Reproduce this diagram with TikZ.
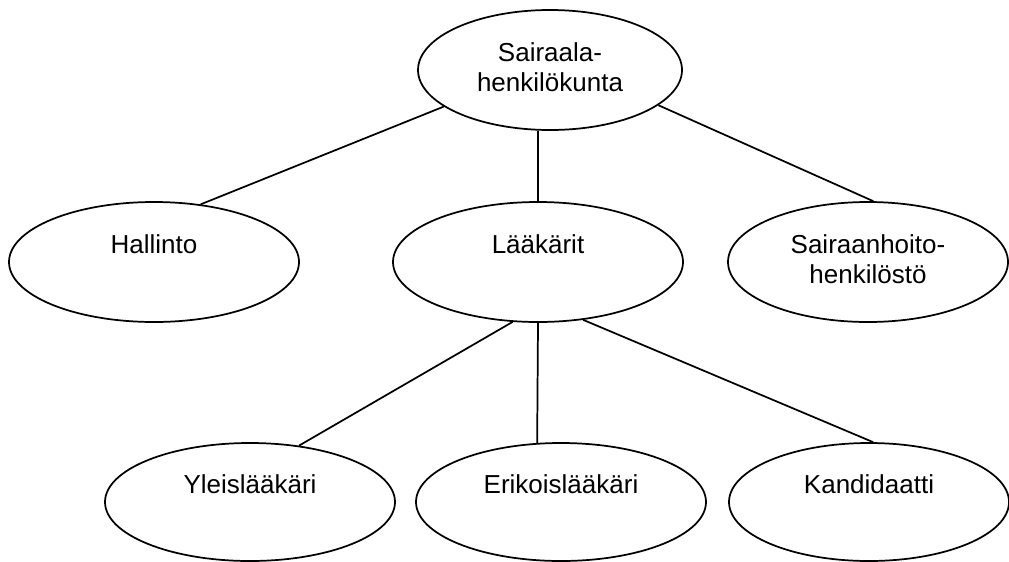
\documentclass[tikz,border=0pt]{standalone}
\usepackage{fontspec}
\setmainfont{Liberation Sans}
\usetikzlibrary{shapes.geometric}
\begin{document}
\begin{tikzpicture}[x=0.75pt,y=-0.75pt,
  oval/.style={draw, ellipse, line width=1.3pt, inner sep=0pt, minimum height=90pt},
  wide/.style={oval, minimum width=217.5pt},
  narrow/.style={oval, minimum width=210pt},
  low/.style={minimum height=88.5pt},
  caption/.style={anchor=base, align=center, inner sep=0pt,
    font=\fontsize{19.5}{22.5}\selectfont},
  link/.style={line width=1.3pt}
]
\useasboundingbox (0,0) rectangle (1009,561);

% ovals of the tree
\node[oval, minimum width=198pt] (top) at (550,70) {};
\node[wide] (hal) at (154,262) {};
\node[wide] (lak) at (538,262) {};
\node[narrow] (hoi) at (868,262) {};
\node[wide, low] (yle) at (250,502) {};
\node[wide, low] (eri) at (561,502) {};
\node[narrow, low] (kan) at (869,502) {};

% captions, set in the upper half of each oval
% (a two-line caption is placed by the baseline of its second line)
\node[caption] (topt) at ([yshift=-15.75pt]top.center) {Sairaala-\\henkilökunta};
\node[caption] (halt) at ([yshift=6.75pt]hal.center) {Hallinto};
\node[caption] (lakt) at ([yshift=6.75pt]lak.center) {Lääkärit};
\node[caption] (hoit) at ([yshift=-15.75pt]hoi.center) {Sairaanhoito-\\henkilöstö};
\node[caption] (ylet) at ([yshift=6.75pt]yle.center) {Yleislääkäri};
\node[caption] (erit) at ([yshift=6.75pt]eri.center) {Erikoislääkäri};
\node[caption] (kant) at ([yshift=6.75pt]kan.center) {Kandidaatti};

% connectors
\draw[link] (top.199) -- (hal.51);
\draw[link] (top.south -| lak.north) -- (lak.north);
\draw[link] (top.342) -- (hoi.85);
\draw[link] (lak.247) -- (yle.49);
\draw[link] (lak.south) -- (eri.112);
\draw[link] (lak.308) -- (kan.86);
\end{tikzpicture}
\end{document}
